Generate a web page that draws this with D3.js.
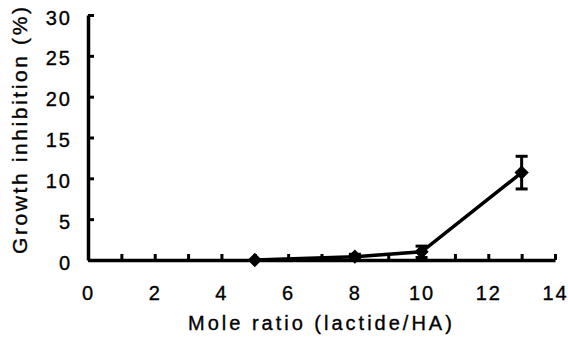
<html>
<head>
<script src="https://cdn.jsdelivr.net/npm/d3@7"></script>
<style>
    body { margin: 0; background: white; font-family: "Liberation Sans", Arial, sans-serif; }
    svg { display: block; }
    text { fill: black; stroke: black; stroke-width: 0.35px; }
</style>
</head>
<body>
<svg id="chart"></svg>
<script>
    // data
    let ratios = [5, 8, 10, 13];
    let inhibition = [0, 0.4, 1.0, 10.7];
    let errors = [0, 0.3, 0.7, 2.0];
    let xTickLabels = [0, 2, 4, 6, 8, 10, 12, 14];
    let yTickLabels = [0, 5, 10, 15, 20, 25, 30];

    let width = 568, height = 338;
    let margin = { top: 15, left: 88, right: 13, bottom: 78 };

    let svg = d3.select("#chart")
        .attr("width", width)
        .attr("height", height);

    let xScale = d3.scaleLinear().domain([0, 14]).range([margin.left, width - margin.right]);
    let yScale = d3.scaleLinear().domain([0, 30]).range([height - margin.bottom, margin.top]);

    let points = ratios.map((r, i) => ({ x: r, y: inhibition[i], e: errors[i] }));

    // axes drawn by d3, ticks pointing inward
    let axisX = d3.axisBottom(xScale)
        .tickValues(d3.range(0, 15))
        .tickSize(-6)
        .tickSizeOuter(0)
        .tickFormat(d => xTickLabels.includes(d) ? d : "");
    let gx = svg.append("g")
        .attr("transform", `translate(0, ${yScale(0)})`)
        .call(axisX);

    let axisY = d3.axisLeft(yScale)
        .tickValues(yTickLabels)
        .tickSize(-6)
        .tickSizeOuter(0);
    let gy = svg.append("g")
        .attr("transform", `translate(${xScale(0)}, 0)`)
        .call(axisY);

    [gx, gy].forEach(g => {
        g.select(".domain").attr("stroke", "black").attr("stroke-width", 3.5);
        g.selectAll(".tick line").attr("stroke", "black").attr("stroke-width", 3);
        g.selectAll(".tick text")
            .attr("fill", "black")
            .style("font-size", "20px")
            .style("letter-spacing", "2px")
            .style("font-family", "'Liberation Sans', Arial, sans-serif");
    });
    gx.selectAll(".tick text").attr("dy", "0").attr("y", 40);
    gy.selectAll(".tick text").attr("x", -16).attr("dy", "0.45em");

    // line
    let line = d3.line().x(d => xScale(d.x)).y(d => yScale(d.y));
    svg.append("path")
        .datum(points)
        .attr("d", line)
        .attr("fill", "none")
        .attr("stroke", "black")
        .attr("stroke-width", 3.5);

    // error bars
    let errPts = points.filter(d => d.e > 0);
    svg.selectAll(".err")
        .data(errPts)
        .enter().append("line")
        .attr("x1", d => xScale(d.x)).attr("x2", d => xScale(d.x))
        .attr("y1", d => yScale(d.y - d.e)).attr("y2", d => yScale(d.y + d.e))
        .attr("stroke", "black").attr("stroke-width", 3);
    svg.selectAll(".cap")
        .data(errPts.flatMap(d => [d.y - d.e, d.y + d.e].map(v => ({ x: d.x, v }))))
        .enter().append("line")
        .attr("x1", d => xScale(d.x) - 6).attr("x2", d => xScale(d.x) + 6)
        .attr("y1", d => yScale(d.v)).attr("y2", d => yScale(d.v))
        .attr("stroke", "black").attr("stroke-width", 3);

    // diamond markers
    svg.selectAll(".pt")
        .data(points)
        .enter().append("path")
        .attr("d", d3.symbol().type(d3.symbolDiamond2).size(130))
        .attr("transform", d => `translate(${xScale(d.x)}, ${yScale(d.y)})`)
        .attr("fill", "black");

    // axis titles
    svg.append("text")
        .attr("x", 188)
        .attr("y", 330)
        .attr("text-anchor", "start")
        .style("font-size", "20px")
        .style("letter-spacing", "3px")
        .text("Mole ratio (lactide/HA)");

    svg.append("text")
        .attr("transform", "translate(27, 254) rotate(-90)")
        .attr("text-anchor", "start")
        .style("font-size", "21px")
        .style("letter-spacing", "2.6px")
        .text("Growth inhibition (%)");
</script>
</body>
</html>
